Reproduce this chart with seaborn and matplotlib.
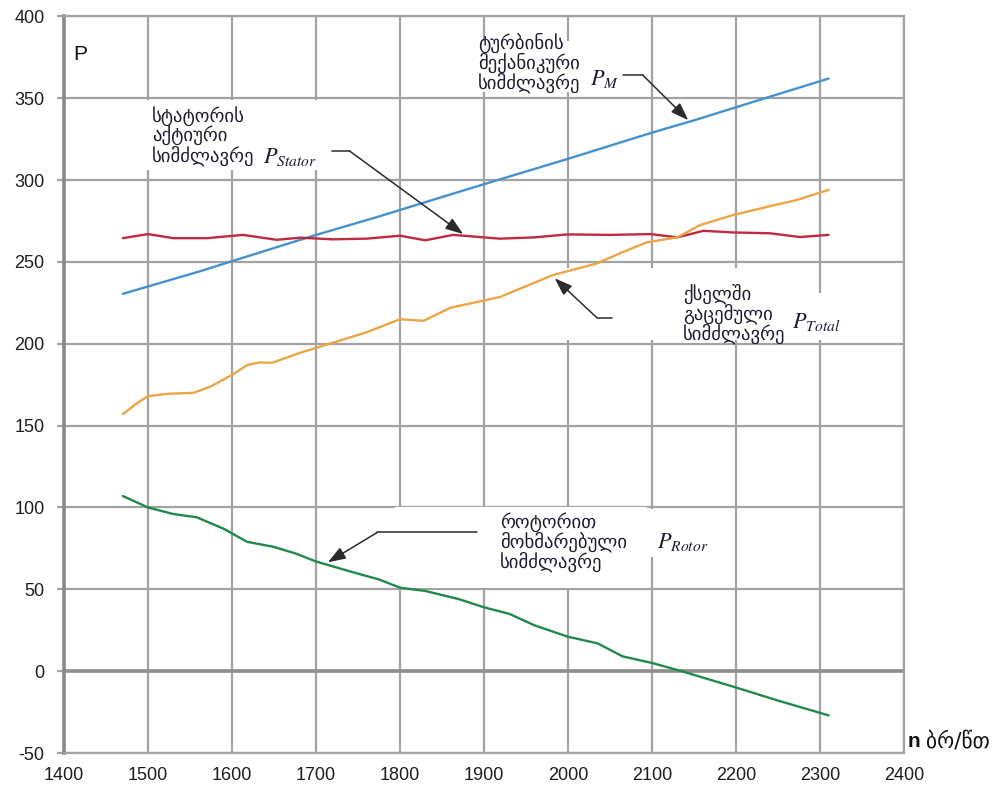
import matplotlib
matplotlib.use("Agg")
import matplotlib.pyplot as plt
from matplotlib.patches import Rectangle
import numpy as np
import pandas as pd
import seaborn as sns

# Rotational speed (rpm) and power for each curve
n_mech = [1470, 1560, 1650, 1700, 1770, 1830, 1900, 2000, 2100, 2150, 2200, 2250, 2310]
p_mech = [230.5, 244, 258.5, 266.5, 277, 286.5, 297.5, 313, 329, 336.5, 344.5, 352.5, 362]

n_stator = [1470, 1500, 1530, 1570, 1613, 1653, 1681, 1720, 1760, 1800, 1830, 1863,
            1919, 1960, 1999, 2050, 2098, 2130, 2161, 2196, 2240, 2276, 2310]
p_stator = [264.5, 267, 264.5, 264.5, 266.5, 263.5, 264.8, 263.8, 264.2, 266, 263.2, 266.5,
            264.2, 265, 266.8, 266.5, 267, 265, 269, 268, 267.5, 265.2, 266.5]

n_total = [1470, 1485, 1500, 1525, 1554, 1575, 1600, 1618, 1633, 1648, 1681, 1701, 1760,
           1800, 1828, 1860, 1919, 1982, 2034, 2065, 2094, 2130, 2157, 2196, 2240, 2272, 2310]
p_total = [157, 163, 168, 169.5, 170, 174, 181, 187, 188.6, 188.4, 194.5, 197.6, 207,
           215, 214, 222, 228.6, 242, 249, 256, 262, 265, 272.5, 278.6, 284, 287.8, 294]

n_rotor = [1470, 1500, 1530, 1558, 1590, 1618, 1649, 1675, 1700, 1740, 1775, 1800,
           1830, 1870, 1900, 1930, 1960, 2000, 2035, 2065, 2100, 2135, 2200, 2250, 2310]
p_rotor = [107, 100, 96, 94, 87, 79, 76, 72, 67, 61, 56, 51,
           49, 44, 39, 35, 28, 21, 17, 9, 5, 0, -10, -18, -27]

series_names = ["mech", "stator", "total", "rotor"]
series_colors = {"mech": "#4591cc", "stator": "#c02a40", "total": "#eba545", "rotor": "#1f8a4a"}

x_ticks = list(range(1400, 2401, 100))
y_ticks = list(range(-50, 401, 50))

frames = []
for name, xs, ys in zip(series_names,
                        [n_mech, n_stator, n_total, n_rotor],
                        [p_mech, p_stator, p_total, p_rotor]):
    frames.append(pd.DataFrame({"n": xs, "P": ys, "series": name}))
df = pd.concat(frames, ignore_index=True)

sns.set_theme(style="white")
plt.rcParams["font.family"] = ["Liberation Sans", "DejaVu Sans"]
plt.rcParams["mathtext.fontset"] = "stix"
plt.rcParams["axes.unicode_minus"] = False

fig = plt.figure(figsize=(10.05, 7.9), dpi=100)
ax = fig.add_axes([0.0637, 0.0468, 0.836, 0.9325])

grid_c = "#a3a3a3"
ax.set_xlim(1400, 2400)
ax.set_ylim(-50, 400)
ax.set_xticks(x_ticks)
ax.set_yticks(y_ticks)
ax.grid(True, color=grid_c, linewidth=1.6)
ax.set_axisbelow(True)
ax.axhline(0, color="#8e8e8e", linewidth=2.6, zorder=0.6)

for side in ["top", "right", "bottom"]:
    ax.spines[side].set_color(grid_c)
    ax.spines[side].set_linewidth(1.6)
ax.spines["left"].set_color("#8a8a8a")
ax.spines["left"].set_linewidth(2.6)

ax.tick_params(axis="y", length=5, width=1.6, color=grid_c, pad=9,
               labelsize=13, labelcolor="#1e1e1e", left=True)
ax.tick_params(axis="x", length=0, pad=10, labelsize=13, labelcolor="#1e1e1e")

# White label panels that hide the grid behind the annotations
panels = [
    (1883, 354, 185, 31),
    (1490, 306, 227, 43),
    (1983, 202, 300, 44),
    (2283, 202, 58, 29),
    (1794, 51, 300, 49),
    (2094, 70, 88, 29),
]
for x0, y0, w, h in panels:
    ax.add_patch(Rectangle((x0, y0), w, h, facecolor="white", edgecolor="none", zorder=1))

sns.lineplot(data=df, x="n", y="P", hue="series", palette=series_colors,
             estimator=None, sort=False, linewidth=1.7, legend=False, ax=ax, zorder=2)
for line in ax.get_lines():
    line.set_solid_joinstyle("round")
ax.set_xlabel("")
ax.set_ylabel("")

# Elbow leader arrows pointing at the curves
arrow_c = "#2b2b2b"
leaders = [
    ((2065, 364), (2089, 364), (2143, 336.6)),
    ((1719, 317.7), (1740, 317.7), (1875, 267)),
    ((2052, 216), (2034, 216), (1984, 240)),
    ((1892, 84.8), (1773, 84.8), (1714, 66.5)),
]
for tail, elbow, tip in leaders:
    ax.plot([tail[0], elbow[0]], [tail[1], elbow[1]], color=arrow_c, linewidth=1.1, zorder=3)
    ax.annotate("", xy=tip, xytext=elbow,
                arrowprops=dict(arrowstyle="-|>,head_length=0.9,head_width=0.32",
                                color=arrow_c, linewidth=1.1, shrinkA=0, shrinkB=0),
                zorder=3)

geo = ["DejaVu Sans"]
txt_c = "#1c1c30"
geo_size = 13.5
ls = 0.98
ax.text(1893, 390, "ტურბინის\nმექანიკური\nსიმძლავრე", family=geo, fontsize=geo_size,
        color=txt_c, va="top", ha="left", linespacing=ls, zorder=4)
ax.text(2026, 362, r"$P_M$", fontsize=16, color=txt_c, va="center", ha="left", zorder=4)

ax.text(1505, 345, "სტატორის\nაქტიური\nსიმძლავრე", family=geo, fontsize=geo_size,
        color=txt_c, va="top", ha="left", linespacing=ls, zorder=4)
ax.text(1637, 314, r"$P_{Stator}$", fontsize=16, color=txt_c, va="center", ha="left", zorder=4)

ax.text(2137, 237, "ქსელში\nგაცემული\nსიმძლავრე", family=geo, fontsize=geo_size,
        color=txt_c, va="top", ha="left", linespacing=ls, zorder=4)
ax.text(2267, 213, r"$P_{Total}$", fontsize=16, color=txt_c, va="center", ha="left", zorder=4)

ax.text(1919, 97, "როტორით\nმოხმარებული\nსიმძლავრე", family=geo, fontsize=geo_size,
        color=txt_c, va="top", ha="left", linespacing=ls, zorder=4)
ax.text(2106, 79, r"$P_{Rotor}$", fontsize=16, color=txt_c, va="center", ha="left", zorder=4)

# Axis captions
ax.text(1411, 377, "P", fontsize=15, color="#111111", va="center", ha="left", zorder=4)
fig.text(0.903, 0.061, "n", fontsize=15, fontweight="bold", color="#111111",
         va="center", ha="left", family=["Liberation Sans"])
fig.text(0.921, 0.061, "ბრ/წთ", fontsize=15.5, color="#111111",
         va="center", ha="left", family=geo)

fig.savefig("out.png", dpi=100)
